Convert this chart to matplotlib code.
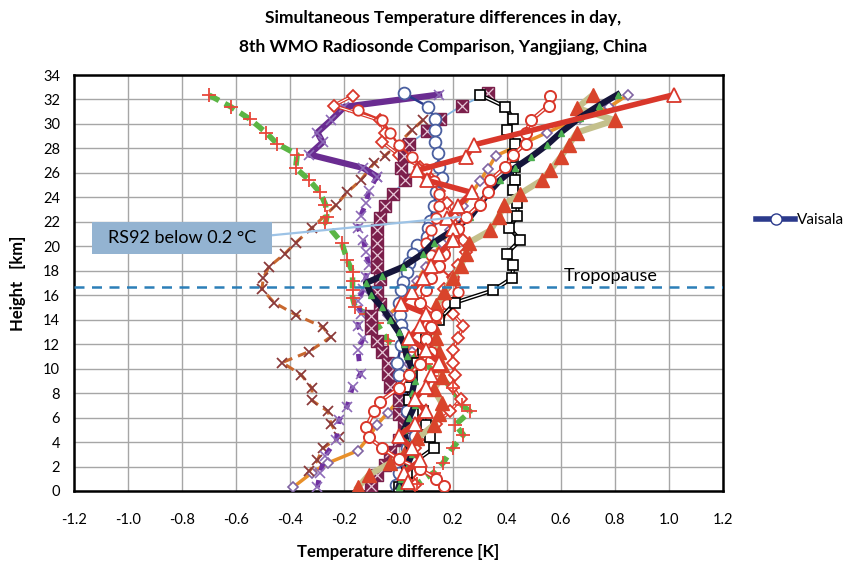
import matplotlib
matplotlib.use("Agg")
import matplotlib.pyplot as plt
from matplotlib.lines import Line2D
from matplotlib.patches import Rectangle
import numpy as np

plt.rcParams["font.family"] = ["Lato", "DejaVu Sans"]

# ---------------------------------------------------------------
# data (x = temperature difference K, h = km)
# ---------------------------------------------------------------
green_h = [32.35, 31.4, 30.4, 29.3, 28.4, 27.5, 26.4, 25.4, 24.4, 23.4, 22.4, 21.9, 20.3, 18.9,
           17.9, 17.2, 16.4, 15.8, 15.0, 14.5, 13.7, 12.3, 11.4, 10.4, 9.4, 8.4, 7.0, 6.5, 5.4,
           4.6, 3.5, 2.3, 1.5, 0.6]
green_x = [-0.70, -0.62, -0.55, -0.49, -0.45, -0.375, -0.38, -0.33, -0.29, -0.27, -0.265, -0.27,
           -0.21, -0.19, -0.17, -0.17, -0.17, -0.17, -0.16, -0.12, -0.08, -0.04, 0.035, 0.10,
           0.15, 0.20, 0.235, 0.265, 0.21, 0.24, 0.20, 0.165, 0.13, 0.07]

brown_h = [30.3, 29.5, 28.4, 27.4, 26.8, 25.4, 24.4, 23.4, 21.5, 20.3, 19.4, 18.3, 17.4, 16.5,
           15.4, 14.4, 13.4, 12.6, 11.4, 10.5, 9.5, 8.4, 7.4, 6.5, 5.5, 4.4, 3.5, 2.5, 1.6]
brown_x = [0.09, 0.05, 0.0, -0.05, -0.09, -0.14, -0.19, -0.23, -0.32, -0.38, -0.42, -0.48, -0.50,
           -0.505, -0.46, -0.38, -0.28, -0.25, -0.33, -0.43, -0.36, -0.32, -0.32, -0.26, -0.25,
           -0.22, -0.28, -0.30, -0.33]

purple_h = [0.3, 1.5, 2.9, 4.2, 5.8, 6.9, 8.5, 9.6, 11.5, 12.5, 13.5, 14.5, 15.5, 16.5, 17.5,
            18.5, 19.5, 20.5, 21.5, 22.5, 23.5, 24.5, 25.7]
purple_x = [-0.30, -0.29, -0.27, -0.23, -0.22, -0.19, -0.17, -0.14, -0.15, -0.13, -0.15, -0.14,
            -0.15, -0.13, -0.12, -0.11, -0.12, -0.13, -0.15, -0.14, -0.12, -0.11, -0.08]
purple_top_h = [25.7, 26.4, 27.5, 28.5, 29.3, 30.3, 31.4, 32.4]
purple_top_x = [-0.08, -0.13, -0.33, -0.28, -0.30, -0.25, -0.20, 0.15]

maroon_h = [32.5, 31.5, 30.4, 29.4, 28.4, 27.4, 26.4, 25.4, 24.3, 23.3, 22.3, 21.3, 20.3, 19.3,
            18.3, 17.3, 16.3, 15.3, 14.3, 13.3, 12.3, 11.4, 10.5, 9.6, 8.5, 7.4, 6.3, 5.2, 4.2,
            3.2, 2.1, 1.3, 0.4]
maroon_x = [0.33, 0.235, 0.155, 0.105, 0.04, 0.02, 0.01, 0.025, -0.02, -0.05, -0.07, -0.08, -0.08,
            -0.08, -0.08, -0.07, -0.08, -0.07, -0.10, -0.10, -0.08, -0.06, -0.04, -0.04, -0.03,
            0.0, 0.0, 0.02, 0.0, -0.03, -0.05, -0.08, -0.10]

vaisala_h = [32.5, 31.4, 30.4, 29.5, 28.5, 27.6, 26.5, 25.6, 24.4, 23.3, 22.1, 21.5, 20.8, 20.1,
             19.4, 18.6, 17.9, 17.1, 16.4, 15.4, 14.4, 13.6, 12.9, 11.9, 10.5, 9.5, 8.5, 7.5, 6.5,
             5.5, 4.5, 3.5, 2.5, 1.5, 0.5]
vaisala_x = [0.02, 0.11, 0.135, 0.135, 0.135, 0.145, 0.15, 0.16, 0.14, 0.13, 0.117, 0.11, 0.105,
             0.07, 0.055, 0.04, 0.03, 0.018, 0.01, 0.0, 0.005, 0.01, 0.015, 0.01, -0.005, 0.0,
             0.02, 0.04, 0.03, 0.05, 0.06, 0.03, 0.02, 0.0, -0.01]

black_h = [32.4, 31.5, 30.5, 29.3, 28.3, 27.3, 26.4, 25.4, 24.3, 23.4, 22.4, 21.3, 20.3, 19.4,
           18.3, 17.6, 17.0, 16.0, 15.0, 14.0, 13.0, 12.0, 11.0, 10.0, 9.0, 8.0, 7.0, 6.0, 5.0,
           4.0, 3.0, 2.0, 1.0, 0.3]
black_x = [0.81, 0.74, 0.67, 0.60, 0.55, 0.49, 0.43, 0.375, 0.33, 0.30, 0.265, 0.20, 0.13, 0.09,
           0.015, -0.06, -0.12, -0.10, -0.06, -0.03, 0.0, 0.02, 0.03, 0.05, 0.06, 0.05, 0.06,
           0.04, 0.02, 0.03, 0.05, 0.03, 0.01, 0.0]

square_h = [32.4, 31.4, 30.4, 29.5, 28.4, 27.5, 26.5, 25.4, 24.6, 23.5, 22.5, 21.5, 20.5, 19.4,
            18.5, 17.4, 16.4, 15.4, 14.0, 12.5, 11.5, 10.5, 9.5, 8.5, 7.4, 6.5, 5.4, 4.4, 3.5,
            2.4, 1.5, 0.3]
square_x = [0.30, 0.395, 0.425, 0.40, 0.43, 0.425, 0.43, 0.43, 0.425, 0.44, 0.44, 0.41, 0.45,
            0.40, 0.425, 0.42, 0.35, 0.21, 0.15, 0.10, 0.09, 0.07, 0.05, 0.04, 0.04, 0.09, 0.10,
            0.115, 0.13, 0.06, 0.03, 0.0]

redtri_h = [32.4, 28.3, 27.3, 26.2, 25.4, 24.4, 23.3, 22.3, 21.4, 20.5, 19.4, 18.4, 17.4, 16.3,
            15.3, 14.5, 13.5, 12.5, 11.5, 10.5, 9.5, 8.5, 7.5, 6.5, 5.5, 4.5, 3.5, 2.5, 1.5, 0.7]
redtri_x = [1.02, 0.28, 0.25, 0.07, 0.105, 0.27, 0.22, 0.18, 0.20, 0.20, 0.15, 0.12, 0.09, 0.05,
            0.01, 0.10, 0.08, 0.04, 0.10, 0.15, 0.12, 0.10, 0.06, 0.10, 0.06, 0.0, 0.05, 0.08,
            0.02, 0.036]

khaki_h = [32.4, 31.3, 30.3, 29.3, 28.3, 27.3, 26.2, 25.4, 24.3, 23.4, 22.4, 21.3, 20.3, 19.4,
           18.4, 17.4, 16.3, 15.2, 14.3, 13.4, 12.5, 11.4, 10.3, 9.3, 8.3, 7.2, 6.3, 5.4, 4.3,
           3.2, 2.3, 1.3, 0.3]
khaki_x = [0.72, 0.66, 0.80, 0.66, 0.63, 0.60, 0.56, 0.53, 0.45, 0.39, 0.37, 0.34, 0.26, 0.25,
           0.23, 0.20, 0.17, 0.14, 0.13, 0.13, 0.14, 0.15, 0.16, 0.16, 0.13, 0.16, 0.15, 0.13,
           0.07, 0.025, -0.03, -0.11, -0.15]

redcirc_h = [32.3, 31.5, 30.3, 29.3, 28.4, 27.5, 26.5, 25.4, 24.4, 23.4, 22.4, 21.4, 20.4, 19.4,
             18.4, 17.4, 16.4, 15.4, 14.4, 13.4, 12.4, 11.4, 10.4, 9.5, 8.4, 7.3, 6.5, 5.2, 4.4,
             3.5, 2.6, 1.8, 1.0, 0.4]
redcirc_x = [0.56, 0.555, 0.49, 0.47, 0.47, 0.425, 0.395, 0.34, 0.33, 0.30, 0.25, 0.22, 0.20,
             0.17, 0.15, 0.12, 0.10, 0.08, 0.14, 0.12, 0.10, 0.12, 0.08, 0.04, 0.0, -0.07, -0.09,
             -0.12, -0.11, -0.06, 0.0, 0.08, 0.14, 0.17]

redcirc2_h = [31.1, 30.3, 29.3, 28.3, 27.3, 26.3, 25.3, 24.3, 23.3, 22.3, 21.3, 20.3, 19.3, 18.3,
              17.3, 16.3, 15.3, 14.3, 13.3, 12.3, 11.3, 10.3]
redcirc2_x = [-0.15, -0.06, -0.03, 0.0, 0.05, 0.10, 0.13, 0.15, 0.15, 0.14, 0.12, 0.10, 0.12,
              0.15, 0.20, 0.22, 0.18, 0.15, 0.12, 0.10, 0.08, 0.06]

reddia_h = [32.3, 31.5, 30.3, 29.3, 28.5, 27.5, 26.5, 25.5, 24.5, 23.5, 22.5, 21.5, 20.5, 19.5,
            18.5, 17.5, 16.5, 15.5, 14.5, 13.5, 12.5, 11.5, 10.5, 9.5, 8.5, 7.5, 6.5, 5.5, 4.5,
            3.5, 2.5, 1.5, 0.5]
reddia_x = [-0.17, -0.24, -0.07, -0.05, -0.06, 0.0, 0.08, 0.12, 0.15, 0.18, 0.20, 0.22, 0.24,
            0.25, 0.22, 0.20, 0.17, 0.18, 0.20, 0.24, 0.22, 0.20, 0.20, 0.21, 0.20, 0.23, 0.19,
            0.14, 0.10, 0.06, 0.04, 0.05, 0.06]

orange_h = [32.4, 31.4, 30.5, 29.3, 28.3, 27.4, 26.3, 25.3, 24.3, 23.3, 22.4, 21.3, 20.3, 19.3,
            18.3, 17.2, 16.2, 15.2, 14.4, 13.4, 12.4, 11.4, 10.4, 9.5, 8.4, 7.4, 6.4, 5.4, 4.4,
            3.3, 2.3, 1.5, 0.3]
orange_x = [0.85, 0.78, 0.67, 0.55, 0.45, 0.36, 0.33, 0.30, 0.27, 0.24, 0.22, 0.19, 0.16, 0.13,
            0.10, 0.07, 0.04, 0.01, -0.04, 0.0, 0.03, 0.05, 0.04, 0.03, 0.0, 0.0, -0.04, -0.08,
            -0.11, -0.15, -0.26, -0.32, -0.39]

tropopause_km = 16.7
x_ticks = np.round(np.arange(-1.2, 1.21, 0.2), 1)
y_ticks = np.arange(0, 35, 2)

# ---------------------------------------------------------------
# figure
# ---------------------------------------------------------------
fig = plt.figure(figsize=(8.44, 5.62), dpi=100)
ax = fig.add_axes([74 / 844, 71 / 562, 649 / 844, 416 / 562])

RED = "#D9372B"

ax.plot(orange_x, orange_h, color="#E8902A", lw=2.5, marker="D", ms=5.5,
        mfc="white", mec="#8064A2", mew=1.2, zorder=3)
ax.plot(brown_x, brown_h, color="#C8682F", lw=2.2, ls=(0, (3, 2)), marker="x", ms=7,
        mec="#8B3A3A", mew=1.3, zorder=3)
ax.plot(green_x, green_h, color="#5BB544", lw=4, ls=(0, (2, 1.2)), zorder=3)
ax.plot(green_x, green_h, ls="none", marker="+", ms=10, mec="#E8473A", mew=1.3, zorder=4)
ax.plot(purple_x, purple_h, color="#7030A0", lw=3.5, ls=(0, (1.5, 2)), marker="x", ms=7,
        mec="#8E6BB8", mew=1.2, zorder=3)
ax.plot(purple_top_x, purple_top_h, color="#6A2C91", lw=4.5, marker="x", ms=7,
        mec="#8E6BB8", mew=1.2, zorder=3)
ax.plot(maroon_x, maroon_h, color="#7FB2E0", lw=1.3, marker="s", ms=9,
        mfc="#7B1F4B", mec="#7B1F4B", zorder=4)
ax.plot(maroon_x, maroon_h, ls="none", marker="x", ms=7, mec="#E8C8D8", mew=0.9, zorder=4)
ax.plot(reddia_x, reddia_h, color=RED, lw=2.5, zorder=3)
ax.plot(reddia_x, reddia_h, color="white", lw=0.8, marker="D", ms=6.5,
        mfc="white", mec=RED, mew=1.3, zorder=3)
ax.plot(vaisala_x, vaisala_h, color="#2B3A8C", lw=1.8, marker="o", ms=8.5,
        mfc="white", mec="#4A5FA0", mew=1.3, zorder=4)
ax.plot(redcirc2_x, redcirc2_h, color=RED, lw=1.5, marker="o", ms=7.5,
        mfc="white", mec=RED, mew=1.3, zorder=4)
ax.plot(square_x, square_h, color="black", lw=3, zorder=4)
ax.plot(square_x, square_h, color="white", lw=1, marker="s", ms=7.5,
        mfc="white", mec="black", mew=1.2, zorder=4)
ax.plot(khaki_x, khaki_h, color="#C4C08C", lw=4.5, marker="^", ms=10,
        mfc="#D9442B", mec="#D9442B", zorder=5)
ax.plot(black_x, black_h, color="#15153A", lw=4.5, marker="^", ms=5,
        mfc="#4CAF50", mec="#4CAF50", zorder=5)
ax.plot(redcirc_x, redcirc_h, color=RED, lw=3, zorder=5)
ax.plot(redcirc_x, redcirc_h, color="white", lw=1, marker="o", ms=8,
        mfc="white", mec=RED, mew=1.4, zorder=5)
ax.plot(redtri_x, redtri_h, color=RED, lw=4, marker="^", ms=10,
        mfc="white", mec=RED, mew=1.3, zorder=6)

# tropopause
ax.axhline(tropopause_km, color="#2C7FB8", lw=1.8, ls=(0, (4, 3)), zorder=7)
ax.text(0.61, 17.6, "Tropopause", fontsize=13, va="center", ha="left", zorder=8)

# callout
ax.plot([-0.469, 0.228], [20.9, 22.4], color="#9DC3E6", lw=1.6, zorder=8)
ax.add_patch(Rectangle((-1.135, 19.36), 0.666, 2.62, facecolor="#93B3D1",
                       edgecolor="none", zorder=9))
ax.text(-0.802, 20.67, "RS92 below 0.2 \u00b0C", fontsize=13, ha="center", va="center",
        zorder=10)

ax.set_xlim(-1.2, 1.2)
ax.set_ylim(0, 34)
ax.set_xticks(x_ticks)
ax.set_xticklabels([f"{v:.1f}" for v in x_ticks])
ax.set_yticks(y_ticks)
ax.tick_params(length=0, labelsize=10.5)
ax.tick_params(axis="x", pad=16)
ax.tick_params(axis="y", pad=10)
ax.grid(True, color="#A6A6A6", lw=1)
ax.set_axisbelow(True)
for s in ax.spines.values():
    s.set_linewidth(1.8)
    s.set_color("black")

ax.set_xlabel("Temperature difference [K]", fontsize=12, fontweight="bold", labelpad=12)
ax.set_ylabel("Height   [km]", fontsize=12, fontweight="bold", labelpad=12)

fig.text(0.525, 0.968, "Simultaneous Temperature differences in day,", ha="center",
         va="center", fontsize=12.5, fontweight="bold")
fig.text(0.525, 0.917, "8th WMO Radiosonde Comparison, Yangjiang, China", ha="center",
         va="center", fontsize=12.5, fontweight="bold")

handle = Line2D([], [], color="#2B3A8C", lw=4, marker="o", ms=8, mfc="white", mec="#2B3A8C")
fig.legend([handle], ["Vaisala"], loc="center left", bbox_to_anchor=(748 / 844, 1 - 220 / 562),
           frameon=False, handlelength=2.6, handletextpad=0.1, fontsize=11, borderpad=0)

fig.savefig("out.png", dpi=100)
